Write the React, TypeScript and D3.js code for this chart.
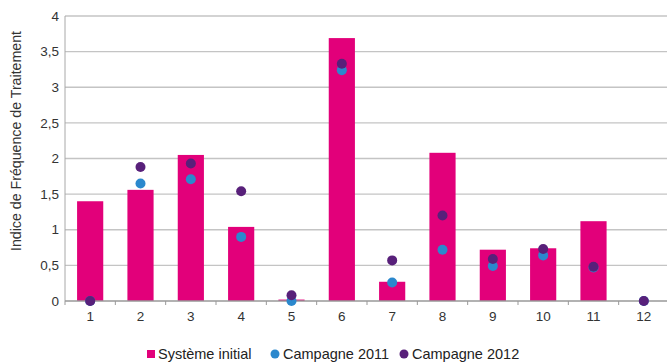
import React from "react";
import * as d3 from "d3";

const categories = ["1", "2", "3", "4", "5", "6", "7", "8", "9", "10", "11", "12"];
const systemeInitial = [1.4, 1.56, 2.05, 1.04, 0.02, 3.69, 0.27, 2.08, 0.72, 0.74, 1.12, 0];
const campagne2011 = [0, 1.65, 1.71, 0.9, 0, 3.24, 0.26, 0.72, 0.49, 0.64, 0.47, 0];
const campagne2012 = [0, 1.88, 1.93, 1.54, 0.08, 3.33, 0.57, 1.2, 0.59, 0.73, 0.48, 0];
const yTicks = [0, 0.5, 1, 1.5, 2, 2.5, 3, 3.5, 4];

const PINK = "#E2007A";
const BLUE = "#2B88CD";
const PURPLE = "#58207A";

const W = 667;
const H = 363;
const left = 65;
const right = 669;
const top = 16;
const bottom = 301;

const fmt = (v: number) => String(v).replace(".", ",");

export default function App() {
  const x = d3.scaleBand<string>().domain(categories).range([left, right]).paddingInner(0.48).paddingOuter(0.24);
  const y = d3.scaleLinear().domain([0, 4]).range([bottom, top]);
  const bw = x.bandwidth();
  const step = x.step();
  const font = "'Liberation Sans', Arial, sans-serif";
  const cx = (i: number) => (x(categories[i]) as number) + bw / 2;

  return (
    <svg width={W} height={H} style={{ position: "absolute", left: 0, top: 0 }}>
      <rect width={W} height={H} fill="#fff" />
      {yTicks.map((t) => (
        <g key={t}>
          {t > 0 && <line x1={left} x2={right} y1={y(t)} y2={y(t)} stroke="#c4c4c4" strokeWidth={1.3} />}
          <text x={59} y={y(t)} dy="0.35em" textAnchor="end" fontFamily={font} fontSize={13.5} fill="#333">
            {fmt(t)}
          </text>
        </g>
      ))}
      <line x1={left} x2={left} y1={top} y2={bottom} stroke="#a8a8a8" strokeWidth={1} />
      {systemeInitial.map((v, i) => (
        <rect key={i} x={x(categories[i])} y={y(v)} width={bw} height={bottom - y(v)} fill={PINK} />
      ))}
      <line x1={left} x2={right} y1={bottom} y2={bottom} stroke="#999" strokeWidth={1.3} />
      {d3.range(categories.length + 1).map((k) => (
        <line key={k} x1={left + k * step} x2={left + k * step} y1={bottom} y2={bottom + 4} stroke="#999" strokeWidth={1} />
      ))}
      {categories.map((c, i) => (
        <text key={c} x={cx(i)} y={321} textAnchor="middle" fontFamily={font} fontSize={13.5} fill="#333">
          {c}
        </text>
      ))}
      {campagne2011.map((v, i) => (
        <circle key={"b" + i} cx={cx(i)} cy={y(v)} r={5} fill={BLUE} />
      ))}
      {campagne2012.map((v, i) => (
        <circle key={"p" + i} cx={cx(i)} cy={y(v)} r={5} fill={PURPLE} />
      ))}
      <text
        transform={`translate(21,141) rotate(-90)`}
        textAnchor="middle"
        fontFamily={font}
        fontSize={14.2}
        fill="#333"
      >
        Indice de Fréquence de Traitement
      </text>
      <g fontFamily={font} fontSize={14.5} fill="#222">
        <rect x={147} y={350} width={8} height={8} fill={PINK} />
        <text x={158} y={359}>Système initial</text>
        <circle cx={275} cy={354} r={4.5} fill={BLUE} />
        <text x={283} y={359}>Campagne 2011</text>
        <circle cx={404} cy={354} r={4.5} fill={PURPLE} />
        <text x={412} y={359}>Campagne 2012</text>
      </g>
    </svg>
  );
}
